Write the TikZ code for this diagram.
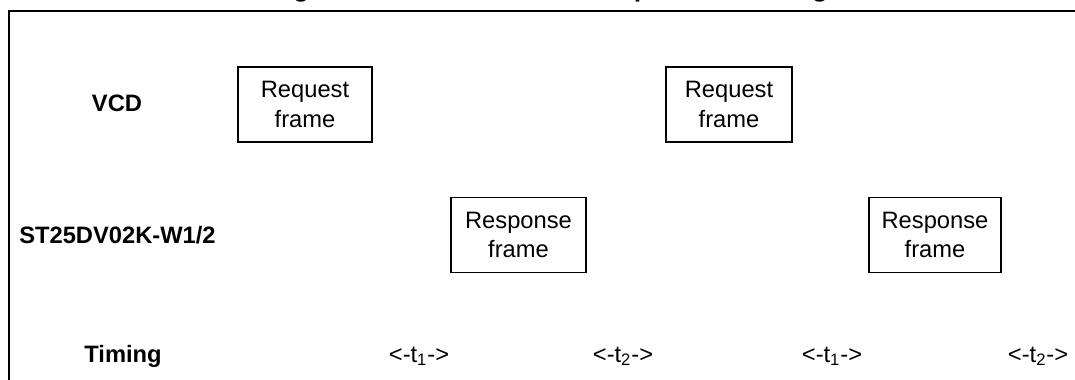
\documentclass[tikz,border=0pt]{standalone}
\usepackage{fontspec}
\setmainfont{Liberation Sans}
\usetikzlibrary{positioning}
\tikzset{framebox/.style={draw, line width=0.9pt, minimum height=1.5cm, inner sep=0pt, align=center, font=\fontsize{13.5}{17}\selectfont}}
\tikzset{lane/.style={anchor=base, inner sep=0pt, font=\fontsize{13.5}{16}\selectfont\bfseries}}
\tikzset{gap/.style={anchor=base, inner sep=0pt, font=\fontsize{13.5}{16}\selectfont}}

\begin{document}
\begin{tikzpicture}[x=0.02cm, y=-0.02cm]
        \useasboundingbox (0,0) rectangle (1075,379);
        \clip (0,0) rectangle (1075,379);
        % caption, cut off at the top edge
        \node[anchor=base west, inner sep=0pt, font=\fontsize{15.2}{18}\selectfont\bfseries] (caption) at (269,-3.8) {Figure 10. ST25DV02K-W1/2 protocol timing};
        \draw[line width=1.1pt] (9,400) |- (1100,11);

        \node[lane] (vcd) at (117,111) {VCD};
        \node[lane] (tag) at (117.5,243) {ST25DV02K-W1/2};
        \node[lane] (timing) at (123,362) {Timing};

        \node[framebox, minimum width=2.68cm] (req1) at (305,104.5) {Request\\frame};
        \node[framebox, minimum width=2.52cm] (req2) at (729,104.5) {Request\\frame};
        \node[framebox, minimum width=2.70cm] (resp1) at (518.5,235) {Response\\frame};
        \node[framebox, minimum width=2.64cm] (resp2) at (935,235) {Response\\frame};

        \node[gap] (t1a) at (419,362) {<-t\textsubscript{1}->};
        \node[gap] (t2a) at (623,362) {<-t\textsubscript{2}->};
        \node[gap] (t1b) at (832,362) {<-t\textsubscript{1}->};
        \node[gap] (t2b) at (1038,362) {<-t\textsubscript{2}->};
    \end{tikzpicture}
\end{document}
